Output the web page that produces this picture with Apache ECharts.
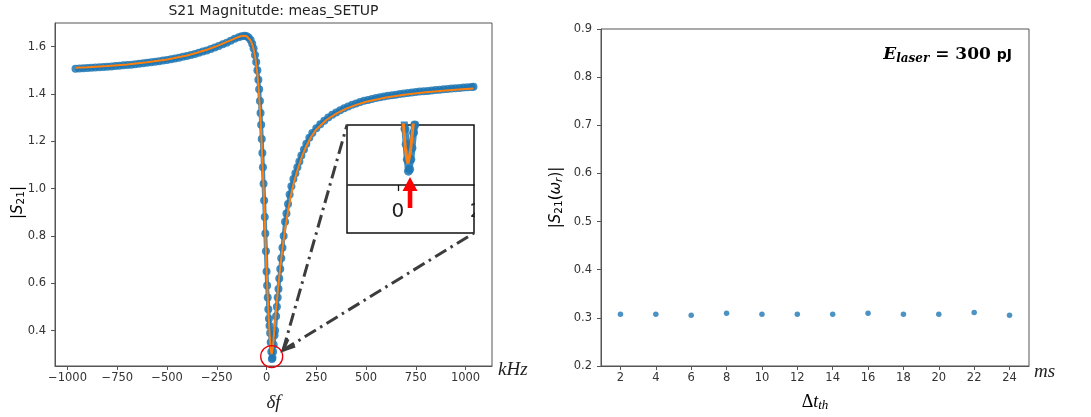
<!DOCTYPE html>
<html><head><meta charset="utf-8">
<script src="https://cdn.jsdelivr.net/npm/echarts@6/dist/echarts.min.js"></script>
<style>html,body{margin:0;padding:0;background:#fff}#c{width:1091px;height:417px}</style>
</head><body><div id="c"></div>
<script>
// ---- data ----
const freqX = [-960,-940,-920,-900,-880,-860,-840,-820,-800,-780,-760,-740,-720,-700,-680,-660,-640,-620,-600,-580,-560,-540,-520,-500,-480,-460,-440,-420,-400,-380,-360,-340,-320,-300,-280,-260,-240,-220,-200,-180,-160,-140,-125,-110,-100,-90,-80,-72,-65,-58,-52,-46,-41,-37,-33,-30,-27,-24,-21,-18,-15,-12,-9,-6,-3,0,3,6,9,12,15,18,21,24,27,30,33,36,40,43,48,52,56,60,64,69,74,80,86,93,100,108,116,125,135,145,155,165,175,188,200,215,230,250,270,290,310,330,350,370,390,410,430,450,470,490,510,530,550,570,590,610,630,650,670,690,710,730,750,770,790,810,830,850,870,890,910,930,950,970,990,1010,1030,1040];
const s21Meas = [1.507,1.508,1.509,1.510,1.511,1.512,1.513,1.514,1.515,1.516,1.518,1.519,1.521,1.522,1.524,1.526,1.528,1.530,1.532,1.534,1.536,1.538,1.541,1.544,1.547,1.550,1.553,1.557,1.561,1.565,1.569,1.574,1.579,1.584,1.590,1.596,1.603,1.610,1.617,1.625,1.633,1.640,1.644,1.646,1.644,1.639,1.628,1.612,1.592,1.565,1.535,1.500,1.460,1.420,1.370,1.320,1.270,1.210,1.150,1.090,1.020,0.950,0.880,0.810,0.735,0.650,0.590,0.540,0.490,0.450,0.420,0.390,0.350,0.310,0.280,0.285,0.310,0.340,0.380,0.400,0.460,0.500,0.540,0.575,0.620,0.660,0.705,0.750,0.800,0.860,0.895,0.935,0.975,1.010,1.040,1.065,1.090,1.115,1.140,1.165,1.190,1.215,1.235,1.255,1.272,1.287,1.300,1.312,1.322,1.331,1.340,1.347,1.354,1.360,1.366,1.371,1.375,1.379,1.383,1.386,1.389,1.392,1.395,1.397,1.400,1.402,1.404,1.406,1.408,1.410,1.412,1.413,1.415,1.417,1.418,1.420,1.421,1.423,1.424,1.425,1.427,1.428,1.429,1.430];
const fitX = [-960,-900,-800,-700,-600,-500,-400,-350,-300,-250,-200,-175,-150,-130,-115,-100,-90,-80,-70,-62,-55,-48,-42,-37,-33,-29,-25,-21,-17,-13,-9,-5,-1,3,7,11,15,19,23,26,29,32,36,40,46,52,60,70,80,92,105,120,140,160,180,200,225,250,300,350,400,450,500,600,700,800,900,1000,1040];
const s21Fit = [1.511,1.513,1.518,1.525,1.534,1.546,1.563,1.574,1.587,1.602,1.620,1.629,1.638,1.644,1.646,1.644,1.638,1.626,1.605,1.578,1.545,1.500,1.450,1.390,1.330,1.270,1.200,1.120,1.040,0.960,0.870,0.770,0.680,0.600,0.520,0.450,0.390,0.340,0.310,0.300,0.305,0.330,0.370,0.410,0.470,0.525,0.595,0.675,0.745,0.820,0.890,0.960,1.035,1.090,1.140,1.180,1.220,1.250,1.290,1.317,1.338,1.354,1.367,1.385,1.398,1.407,1.415,1.421,1.423];
const freqTicks = [-1000,-750,-500,-250,0,250,500,750,1000];
const s21Ticks = [0.4,0.6,0.8,1.0,1.2,1.4,1.6];
const insetTicks = [0];
const dtTh = [2,4,6,8,10,12,14,16,18,20,22,24];
const s21Res = [0.3075,0.3075,0.3055,0.3095,0.3075,0.3075,0.3075,0.3095,0.3075,0.3075,0.311,0.3055];
const resTicks = [0.2,0.3,0.4,0.5,0.6,0.7,0.8,0.9];

// ---- layout ----
const G0 = {l:55, t:23, r:492, b:366};
const G1 = {l:601, t:29, r:1029, b:366};
const G2 = {l:348, t:125, r:474, b:185};
const BOX = {l:347, t:125, r:474, b:233};
const BLUE = '#1f77b4', ORANGE = '#ff7f0e', AX = '#555', TXT = '#333';
const SANS = 'DejaVu Sans', SERIF = 'Liberation Serif';

const minus = v => String(v).replace('-', '\u2212');
function gridOf(g){ return {left:g.l, top:g.t, width:g.r-g.l, height:g.b-g.t, containLabel:false}; }
function valAxis(gi, min, max, ticks, extra){
  return Object.assign({
    type:'value', gridIndex:gi, min:min, max:max,
    axisLine:{show:true, onZero:false, lineStyle:{color:AX, width:1}},
    axisTick:{show:true, length:4, customValues:ticks, lineStyle:{color:AX}},
    splitLine:{show:false}
  }, extra||{});
}

const chart = echarts.init(document.getElementById('c'), null, {renderer:'canvas'});
chart.setOption({
  animation:false,
  backgroundColor:'#fff',
  grid:[
    Object.assign(gridOf(G0), {show:true, borderColor:AX, borderWidth:1}),
    Object.assign(gridOf(G1), {show:true, borderColor:AX, borderWidth:1}),
    gridOf(G2)
  ],
  xAxis:[
    valAxis(0, -1063, 1133, freqTicks, {axisLabel:{customValues:freqTicks, formatter:v=>minus(v), color:TXT, fontFamily:SANS, fontSize:11.5, margin:6}}),
    valAxis(1, 0.9, 25.1, dtTh, {axisLabel:{customValues:dtTh, color:TXT, fontFamily:SANS, fontSize:11.5, margin:6}}),
    valAxis(2, -1.28, 1.95, insetTicks, {z:6,
      axisLine:{show:true, onZero:false, lineStyle:{color:'#111', width:1.5}},
      axisTick:{show:true, length:6, customValues:insetTicks, lineStyle:{color:'#111', width:1.3}},
      axisLabel:{customValues:insetTicks, color:'#222', fontFamily:SANS, fontSize:20, margin:17}})
  ],
  yAxis:[
    valAxis(0, 0.25, 1.70, s21Ticks, {axisLabel:{customValues:s21Ticks, formatter:v=>v.toFixed(1), color:TXT, fontFamily:SANS, fontSize:11.5, margin:9}}),
    valAxis(1, 0.2, 0.9, resTicks, {axisLabel:{customValues:resTicks, formatter:v=>v.toFixed(1), color:TXT, fontFamily:SANS, fontSize:11.5, margin:9}}),
    {type:'value', gridIndex:2, min:0.244, max:0.40, show:false}
  ],
  series:[
    {type:'line', xAxisIndex:0, yAxisIndex:0, z:2,
     data:freqX.map((x,i)=>[x, s21Meas[i]]),
     symbol:'circle', symbolSize:8, showSymbol:true,
     lineStyle:{color:BLUE, width:4, opacity:0.85}, itemStyle:{color:BLUE, opacity:0.85},
     markPoint:{silent:true, symbol:'circle', symbolSize:22,
       itemStyle:{color:'rgba(0,0,0,0)', borderColor:'#e8000b', borderWidth:1.3},
       label:{show:false}, data:[{coord:[26, 0.29]}]}},
    {type:'line', xAxisIndex:0, yAxisIndex:0, z:3,
     data:fitX.map((x,i)=>[x, s21Fit[i]]), showSymbol:false,
     lineStyle:{color:ORANGE, width:2}},
    {type:'line', xAxisIndex:2, yAxisIndex:2, z:4, clip:true,
     data:freqX.map((x,i)=>[x/100, s21Meas[i]]),
     symbol:'circle', symbolSize:9, showSymbol:true,
     lineStyle:{color:BLUE, width:7, opacity:0.85}, itemStyle:{color:BLUE, opacity:0.85}},
    {type:'line', xAxisIndex:2, yAxisIndex:2, z:5, clip:true,
     data:fitX.map((x,i)=>[x/100, s21Fit[i]]), showSymbol:false,
     lineStyle:{color:ORANGE, width:3}},
    {type:'scatter', xAxisIndex:1, yAxisIndex:1,
     data:dtTh.map((x,i)=>[x, s21Res[i]]), symbol:'circle', symbolSize:5.5,
     itemStyle:{color:BLUE}}
  ]
});

// ---- annotations ----
const tip = chart.convertToPixel({xAxisIndex:0, yAxisIndex:0}, [83, 0.317]);
const arrowX = chart.convertToPixel({xAxisIndex:2, yAxisIndex:2}, [0.31, 0.3])[0];
const dash = {stroke:'#3c3c3c', lineWidth:3, lineDash:[13,5,2.5,5], fill:null};
const g0cx = (G0.l+G0.r)/2, g1cx = (G1.l+G1.r)/2;
const mathRich = {
  b:{fontFamily:SANS, fontSize:15, color:'#222'},
  i:{fontFamily:SANS, fontStyle:'italic', fontSize:15, color:'#222'},
  s:{fontFamily:SANS, fontSize:10.5, color:'#222', verticalAlign:'bottom', padding:[7,0,0,0]},
  si:{fontFamily:SANS, fontStyle:'italic', fontSize:10.5, color:'#222', verticalAlign:'bottom', padding:[7,0,0,0]}
};
chart.setOption({graphic:[
  {type:'rect', z:1, shape:{x:BOX.l, y:BOX.t, width:BOX.r-BOX.l, height:BOX.b-BOX.t},
   style:{fill:'#fff', stroke:'#111', lineWidth:1.5}},
  {type:'text', z:7, style:{x:476, y:212, text:'2', font:'20px "DejaVu Sans"', fill:'#222', align:'center', verticalAlign:'middle'}},
  {type:'rect', z:8, shape:{x:BOX.r+1, y:198, width:14, height:30}, style:{fill:'#fff'}},
  {type:'rect', z:9, shape:{x:arrowX-2.3, y:190, width:4.6, height:18}, style:{fill:'#ff0000'}},
  {type:'polygon', z:9, shape:{points:[[arrowX, 177],[arrowX-7.5,191],[arrowX+7.5,191]]}, style:{fill:'#ff0000'}},
  {type:'polyline', z:10, shape:{points:[tip,[BOX.l, BOX.t]]}, style:dash},
  {type:'polyline', z:10, shape:{points:[tip,[BOX.r, BOX.b]]}, style:dash},
  {type:'polyline', z:10, shape:{points:[[tip[0]+5, tip[1]-11], tip, [tip[0]+12, tip[1]-4]]}, style:{stroke:'#3c3c3c', lineWidth:3, fill:null}},
  {type:'text', style:{x:g0cx, y:11, text:'S21 Magnitutde: meas_SETUP', font:'14px "DejaVu Sans"', fill:'#222', align:'center', verticalAlign:'middle'}},
  {type:'text', rotation:Math.PI/2, x:18, y:(G0.t+G0.b)/2+8,
   style:{text:'{b||}{i|S}{s|21}{b||}', rich:mathRich, align:'center', verticalAlign:'middle'}},
  {type:'text', style:{x:g0cx, y:403, text:'\u03b4f', font:'italic 19px "Liberation Serif"', fill:'#222', align:'center', verticalAlign:'middle'}},
  {type:'text', style:{x:498, y:370, text:'kHz', font:'italic 19px "Liberation Serif"', fill:'#222', align:'left', verticalAlign:'middle'}},
  {type:'text', rotation:Math.PI/2, x:556, y:(G1.t+G1.b)/2,
   style:{text:'{b||}{i|S}{s|21}{b|(}{i|\u03c9}{si|r}{b|)|}', rich:mathRich, align:'center', verticalAlign:'middle'}},
  {type:'text', style:{x:g1cx, y:402, text:'{b|\u0394}{i|t}{si|th}', rich:{
     b:{fontFamily:SERIF, fontSize:18, color:'#222'},
     i:{fontFamily:SERIF, fontStyle:'italic', fontSize:18, color:'#222'},
     si:{fontFamily:SERIF, fontStyle:'italic', fontSize:13, color:'#222', verticalAlign:'bottom', padding:[8,0,0,0]}},
     align:'center', verticalAlign:'middle'}},
  {type:'text', style:{x:1034, y:372, text:'ms', font:'italic 19px "Liberation Serif"', fill:'#222', align:'left', verticalAlign:'middle'}},
  {type:'text', style:{x:1012, y:55, text:'{e|E}{l|laser}{q| = 300 }{p|pJ}', rich:{
     e:{fontFamily:'DejaVu Serif', fontStyle:'italic', fontWeight:'bold', fontSize:17, color:'#111'},
     l:{fontFamily:'DejaVu Serif', fontStyle:'italic', fontWeight:'bold', fontSize:12, color:'#111', verticalAlign:'bottom', padding:[8,0,0,0]},
     q:{fontFamily:'DejaVu Serif', fontWeight:'bold', fontSize:17, color:'#111'},
     p:{fontFamily:SANS, fontWeight:'bold', fontSize:14, color:'#111'}},
     align:'right', verticalAlign:'middle'}}
]});
</script></body></html>
